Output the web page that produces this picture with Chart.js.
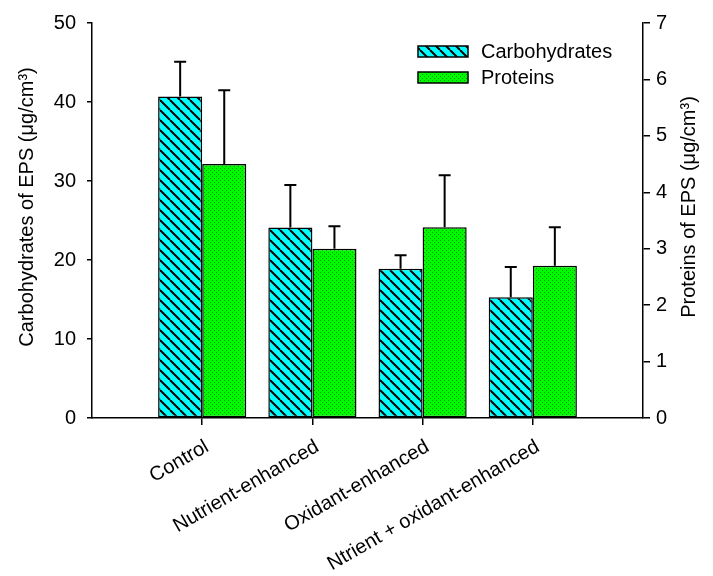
<!DOCTYPE html>
<html>
<head>
<meta charset="utf-8">
<script src="https://cdn.jsdelivr.net/npm/chart.js@4"></script>
<style>
  body { margin: 0; background: #fff; }
  #wrap { width: 713px; height: 576px; }
</style>
</head>
<body>
<div id="wrap"><canvas id="myChart" width="713" height="576"></canvas></div>
<script>
let categories = ["Control", "Nutrient-enhanced", "Oxidant-enhanced", "Ntrient + oxidant-enhanced"];
let carbohydrates = [40.7, 24.1, 18.9, 15.3];
let carbohydratesErr = [4.4, 5.4, 1.7, 3.8];
let proteins = [4.5, 3.0, 3.38, 2.7];
let proteinsErr = [1.31, 0.4, 0.92, 0.68];
let leftTicks = [0, 10, 20, 30, 40, 50];
let rightTicks = [0, 1, 2, 3, 4, 5, 6, 7];

let font = "Liberation Sans, Arial, sans-serif";

// empty slot on each side, like the original plot
let labels = [""].concat(categories, [""]);
let pad = arr => [null].concat(arr, [null]);

function hatchPattern() {
    let c = document.createElement('canvas');
    c.width = 10; c.height = 10;
    let g = c.getContext('2d');
    g.fillStyle = '#00ffff';
    g.fillRect(0, 0, 10, 10);
    g.strokeStyle = '#000';
    g.lineWidth = 2;
    g.beginPath();
    for (let k = -1; k <= 1; k++) {
        g.moveTo(k * 10, 0);
        g.lineTo(k * 10 + 10, 10);
    }
    g.stroke();
    return g.createPattern(c, 'repeat');
}

function dotPattern() {
    let c = document.createElement('canvas');
    c.width = 4; c.height = 4;
    let g = c.getContext('2d');
    g.fillStyle = '#00fa00';
    g.fillRect(0, 0, 4, 4);
    g.fillStyle = '#009000';
    g.fillRect(0, 0, 1, 1);
    g.fillRect(2, 2, 1, 1);
    return g.createPattern(c, 'repeat');
}

let errors = [pad(carbohydratesErr), pad(proteinsErr)];

let errorBars = {
    id: 'errorBars',
    afterDatasetsDraw(chart) {
        let ctx = chart.ctx;
        ctx.save();
        ctx.strokeStyle = '#000';
        ctx.lineWidth = 2;
        chart.data.datasets.forEach((ds, i) => {
            let meta = chart.getDatasetMeta(i);
            let scale = chart.scales[meta.yAxisID];
            meta.data.forEach((bar, j) => {
                let v = ds.data[j];
                if (v == null) return;
                let top = scale.getPixelForValue(v + errors[i][j]);
                ctx.beginPath();
                ctx.moveTo(bar.x, bar.y);
                ctx.lineTo(bar.x, top);
                ctx.moveTo(bar.x - 6, top);
                ctx.lineTo(bar.x + 6, top);
                ctx.stroke();
            });
        });
        ctx.restore();
    }
};

let extras = {
    id: 'extras',
    afterDraw(chart) {
        let ctx = chart.ctx;
        ctx.save();
        ctx.fillStyle = '#000';
        ctx.font = '20px ' + font;

        // legend inside the plot
        chart.data.datasets.forEach((ds, i) => {
            let y = 46 + i * 26;
            ctx.fillStyle = ds.backgroundColor;
            ctx.fillRect(418, y, 50, 11);
            ctx.strokeStyle = '#000';
            ctx.lineWidth = 1.5;
            ctx.strokeRect(418, y, 50, 11);
            ctx.fillStyle = '#000';
            ctx.textAlign = 'left';
            ctx.textBaseline = 'middle';
            ctx.fillText(ds.label, 481, y + 6);
        });

        // axis titles, both reading bottom to top
        let titles = [
            ["Carbohydrates of EPS (\u03bcg/cm\u00b3)", 27, 207],
            ["Proteins of EPS (\u03bcg/cm\u00b3)", 689, 207]
        ];
        titles.forEach(t => {
            ctx.save();
            ctx.translate(t[1], t[2]);
            ctx.rotate(-Math.PI / 2);
            ctx.textAlign = 'center';
            ctx.textBaseline = 'middle';
            ctx.fillText(t[0], 0, 0);
            ctx.restore();
        });
        ctx.restore();
    }
};

let ctx = document.getElementById('myChart').getContext('2d');

let chart = new Chart(ctx, {
    type: 'bar',
    data: {
        labels: labels,
        datasets: [{
            label: 'Carbohydrates',
            data: pad(carbohydrates),
            backgroundColor: hatchPattern(),
            borderColor: '#000',
            borderWidth: 1.5,
            borderSkipped: false,
            yAxisID: 'y'
        }, {
            label: 'Proteins',
            data: pad(proteins),
            backgroundColor: dotPattern(),
            borderColor: '#000',
            borderWidth: 1.5,
            borderSkipped: false,
            yAxisID: 'y2'
        }]
    },
    options: {
        responsive: false,
        animation: false,
        categoryPercentage: 0.8,
        barPercentage: 1.0,
        layout: { padding: { top: 20, left: 0, right: 0, bottom: 0 } },
        plugins: {
            legend: { display: false },
            tooltip: { enabled: false }
        },
        scales: {
            x: {
                offset: false,
                grid: {
                    display: true,
                    offset: false,
                    drawOnChartArea: false,
                    drawTicks: true,
                    tickLength: 7,
                    lineWidth: 1.5,
                    color: c => (c.index === 0 || c.index === labels.length - 1) ? 'rgba(0,0,0,0)' : '#000'
                },
                border: { display: true, color: '#000', width: 1.5 },
                ticks: {
                    color: '#000',
                    font: { family: font, size: 20 },
                    minRotation: 30,
                    maxRotation: 30,
                    autoSkip: false,
                    padding: 10,
                    labelOffset: 5
                },
                afterFit: s => { s.height = 158; }
            },
            y: {
                position: 'left',
                min: 0,
                max: 50,
                afterBuildTicks: s => { s.ticks = leftTicks.map(v => ({ value: v })); },
                grid: {
                    display: true,
                    drawOnChartArea: false,
                    tickLength: 5,
                    lineWidth: 1.5,
                    color: '#000'
                },
                border: { display: true, color: '#000', width: 1.5 },
                ticks: {
                    color: '#000',
                    font: { family: font, size: 20 },
                    padding: 11
                },
                afterFit: s => { s.width = 92; }
            },
            y2: {
                position: 'right',
                min: 0,
                max: 7,
                afterBuildTicks: s => { s.ticks = rightTicks.map(v => ({ value: v })); },
                grid: {
                    display: true,
                    drawOnChartArea: false,
                    tickLength: 7,
                    lineWidth: 1.5,
                    color: '#000'
                },
                border: { display: true, color: '#000', width: 1.5 },
                ticks: {
                    color: '#000',
                    font: { family: font, size: 20 },
                    padding: 6
                },
                afterFit: s => { s.width = 70; }
            }
        }
    },
    plugins: [errorBars, extras]
});
</script>
</body>
</html>
